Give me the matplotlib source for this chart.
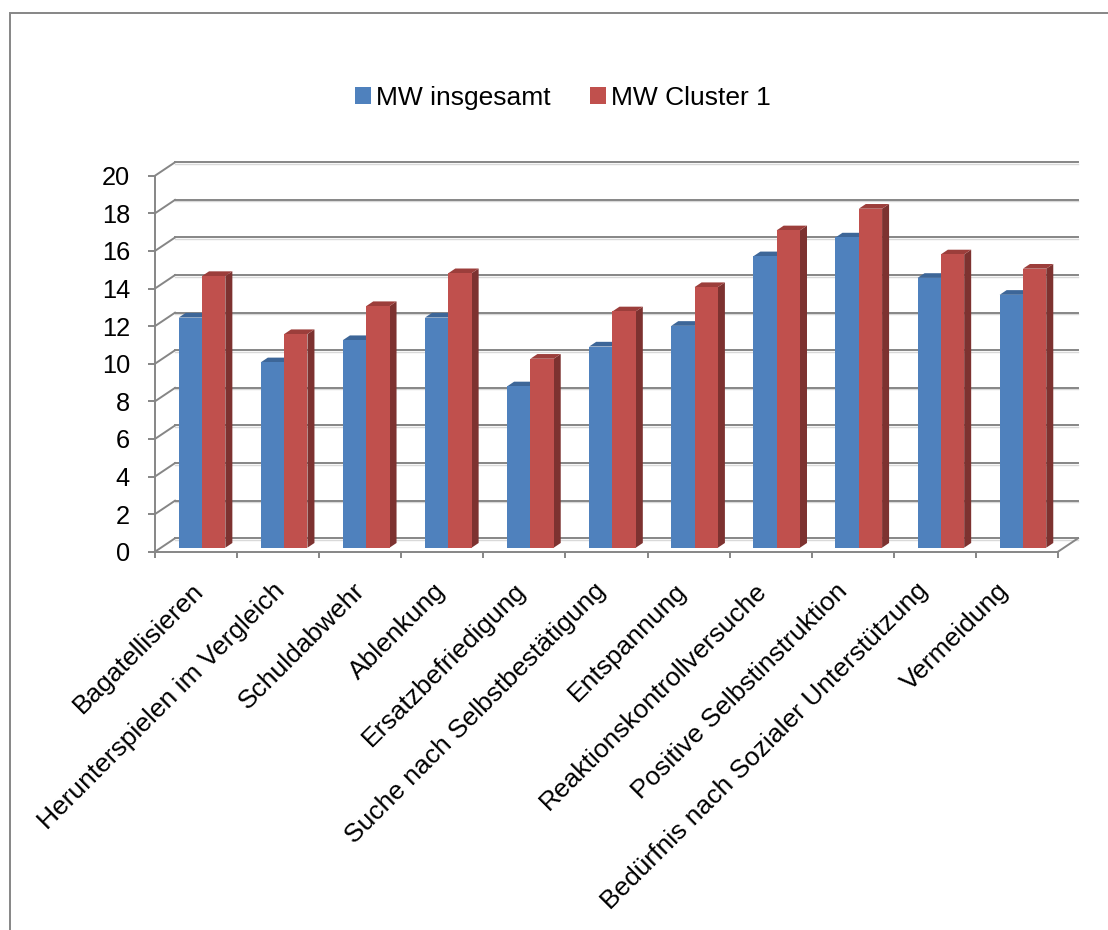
import matplotlib.pyplot as plt
import matplotlib.transforms as mtransforms
from matplotlib.patches import Polygon, Rectangle
import numpy as np

plt.rcParams['font.family'] = ['Liberation Sans', 'DejaVu Sans']

categories = ['Bagatellisieren', 'Herunterspielen im Vergleich', 'Schuldabwehr',
              'Ablenkung', 'Ersatzbefriedigung', 'Suche nach Selbstbestätigung',
              'Entspannung', 'Reaktionskontrollversuche', 'Positive Selbstinstruktion',
              'Bedürfnis nach Sozialer Unterstützung', 'Vermeidung']
mw_insgesamt = [12.24, 9.86, 11.04, 12.24, 8.58, 10.7, 11.8, 15.5, 16.5, 14.35, 13.45]
mw_cluster1 = [14.45, 11.36, 12.85, 14.6, 10.05, 12.57, 13.86, 16.88, 18.03, 15.6, 14.84]
series_names = ['MW insgesamt', 'MW Cluster 1']
yticks = list(range(0, 21, 2))

blue = ('#4F81BD', '#3D6698', '#34577F')
red = ('#C0504D', '#9C3E3B', '#7D3230')
grid_col = '#868686'

fig = plt.figure(figsize=(11.08, 9.3), dpi=100)
ax = fig.add_axes([155 / 1108, (930 - 551.7) / 930, 903 / 1108, 376 / 930])
n = len(categories)
ax.set_xlim(0, n)
ax.set_ylim(0, 20)

# depth of the floor (x in category units, y in value units)
dx, dy = 0.2436, 0.713
f_front, f_depth = 0.30, 0.35
w = 0.284

# left wall and back wall gridlines
for v in yticks:
    ax.plot([0, dx], [v, v + dy], color=grid_col, lw=1.4, clip_on=False, zorder=1)
    ax.plot([dx, n + dx], [v + dy - 0.08, v + dy - 0.08], color='#d9d9d9', lw=1.0,
            clip_on=False, zorder=0.9)
    ax.plot([dx, n + dx], [v + dy, v + dy], color=grid_col, lw=1.4, clip_on=False, zorder=1)
# right edge of the floor
ax.plot([n, n + dx], [0, dy], color=grid_col, lw=1.4, clip_on=False, zorder=1)


def box(x0, x1, v, cols, z):
    ox, oy = dx * f_front, dy * f_front
    bx, by = dx * f_depth, dy * f_depth
    front = Polygon([(x0 + ox, oy), (x1 + ox, oy), (x1 + ox, v + oy), (x0 + ox, v + oy)],
                    closed=True, fc=cols[0], ec='none', zorder=z + 0.2, clip_on=False)
    top = Polygon([(x0 + ox, v + oy), (x1 + ox, v + oy), (x1 + ox + bx, v + oy + by),
                   (x0 + ox + bx, v + oy + by)],
                  closed=True, fc=cols[1], ec='none', zorder=z + 0.1, clip_on=False)
    side = Polygon([(x1 + ox, oy), (x1 + ox + bx, oy + by), (x1 + ox + bx, v + oy + by),
                    (x1 + ox, v + oy)],
                   closed=True, fc=cols[2], ec='none', zorder=z, clip_on=False)
    for p in (side, top, front):
        ax.add_patch(p)


for i in range(n):
    c = i + 0.5
    box(c - w, c, mw_insgesamt[i], blue, 2)
    box(c, c + w, mw_cluster1[i], red, 3)

# axes styling
for s in ('top', 'right'):
    ax.spines[s].set_visible(False)
for s in ('left', 'bottom'):
    ax.spines[s].set_color(grid_col)
    ax.spines[s].set_linewidth(1.4)
    ax.spines[s].set_zorder(5)
ax.set_yticks(yticks)
ax.tick_params(axis='y', length=5, width=1.4, color=grid_col, pad=13, labelsize=18.3)
ax.set_xticks([])
ax.set_xticks(np.arange(n + 1), minor=True)
ax.tick_params(axis='x', which='minor', length=4.3, width=1.4, color=grid_col)

# rotated category labels (slightly tighter spacing than the ticks)
lab_off = mtransforms.ScaledTranslation(-6 / 100, -27 / 100, fig.dpi_scale_trans)
for i, name in enumerate(categories):
    ax.text(0.52 + i * 0.98, 0, name, transform=ax.transData + lab_off, rotation=45,
            rotation_mode='anchor', ha='right', va='top', fontsize=19)

# legend
handles = [Rectangle((0, 0), 1, 1, fc=blue[0]), Rectangle((0, 0), 1, 1, fc=red[0])]
fig.legend(handles, series_names, loc='center', bbox_to_anchor=(563 / 1108, 1 - 98 / 930),
           ncol=2, frameon=False, fontsize=19, handlelength=0.6, handleheight=0.6,
           handletextpad=0.2, columnspacing=1.5)

# chart area border
fig.patches.append(Rectangle((10 / 1108, -0.1), 1.2, 1.1 - 13 / 930, fill=False,
                             ec=grid_col, lw=1.4, transform=fig.transFigure))

fig.savefig('out.png', dpi=100)
